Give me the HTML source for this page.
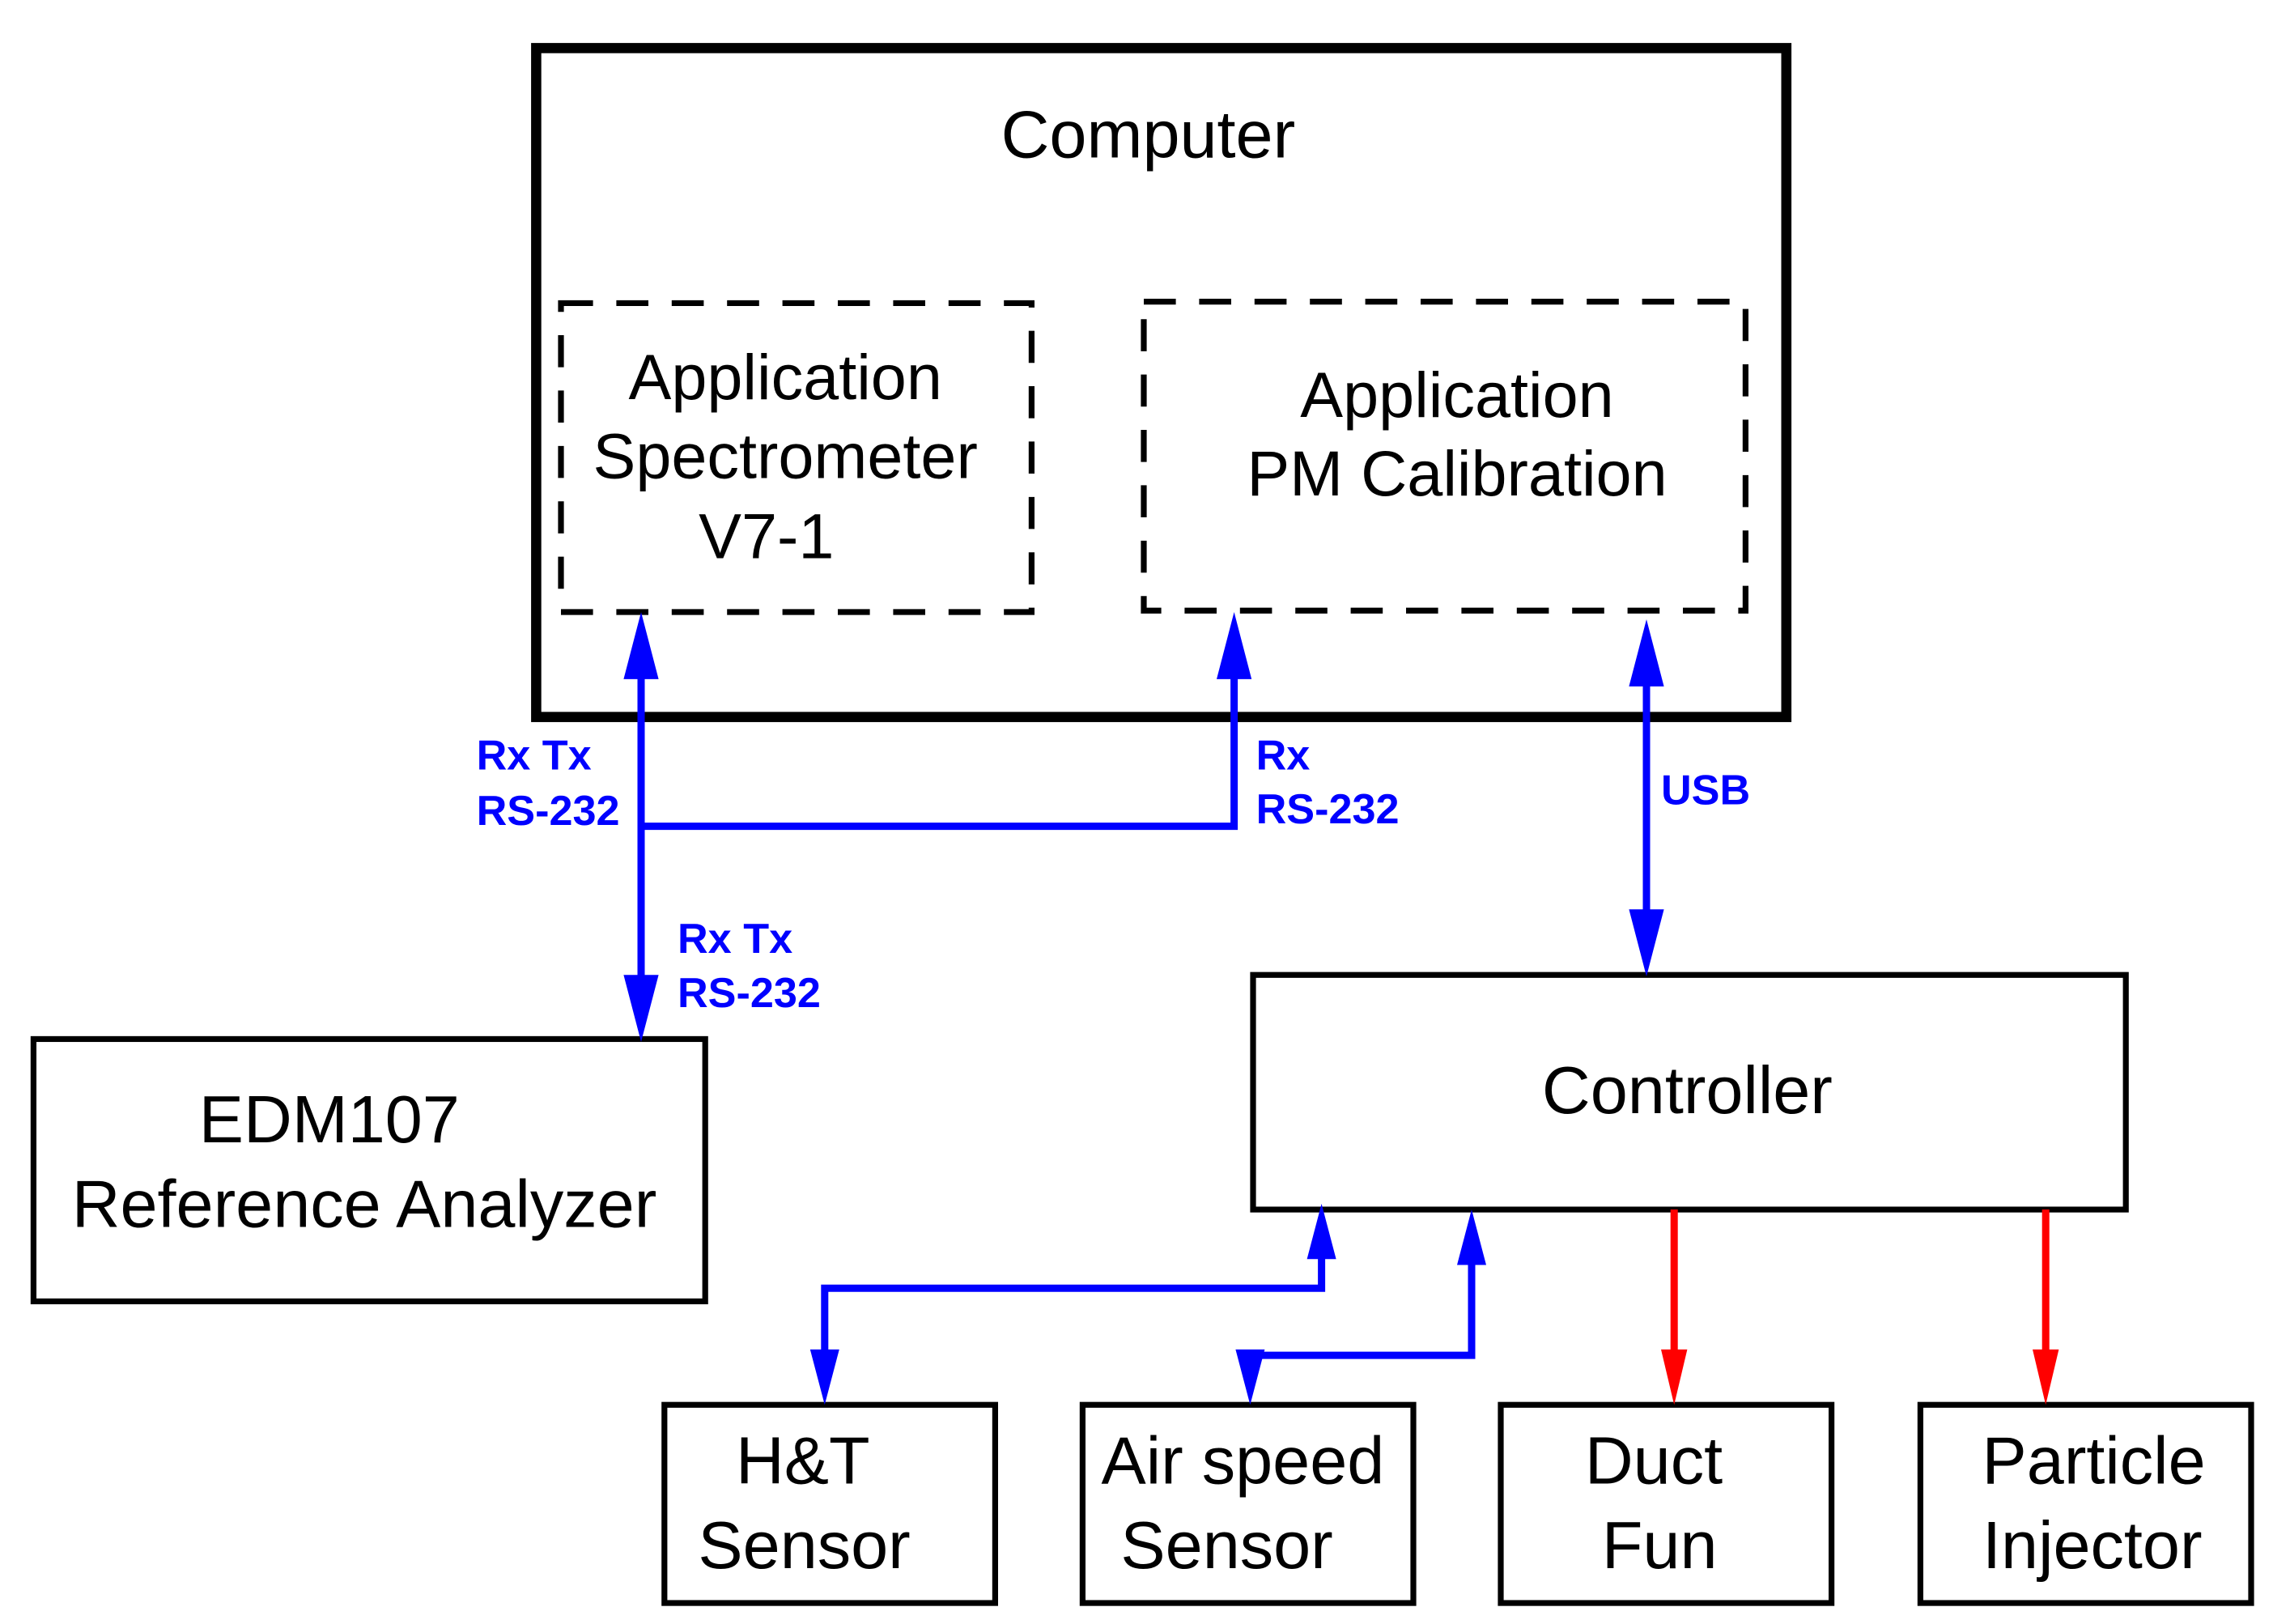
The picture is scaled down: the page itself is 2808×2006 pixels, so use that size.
<!DOCTYPE html>
<html><head><style>html,body{margin:0;padding:0;background:#fff}svg{display:block}</style></head><body>
<svg width="2808" height="2006" viewBox="0 0 1560 1114.4" preserveAspectRatio="none" xmlns="http://www.w3.org/2000/svg" font-family="Liberation Sans, Arial, sans-serif">
<rect x="368" y="33" width="858" height="459" fill="none" stroke="#000" stroke-width="7"/>
<rect x="385" y="208" width="323" height="212" fill="none" stroke="#000" stroke-width="4" stroke-dasharray="22,16"/>
<rect x="785" y="207" width="413" height="212" fill="none" stroke="#000" stroke-width="4" stroke-dasharray="22,16"/>
<g font-size="46" text-anchor="middle" fill="#000">
<text x="788" y="108">Computer</text>
<text x="539" y="274" font-size="44">Application</text>
<text x="539" y="328" font-size="44">Spectrometer</text>
<text x="526" y="383" font-size="44">V7-1</text>
<text x="1000" y="286" font-size="44">Application</text>
<text x="1000" y="340" font-size="44">PM Calibration</text>
<text x="226" y="784">EDM107</text>
<text x="250" y="842">Reference Analyzer</text>
<text x="1158" y="764">Controller</text>
<text x="551" y="1018">H&amp;T</text>
<text x="552" y="1076">Sensor</text>
<text x="853" y="1018">Air speed</text>
<text x="842" y="1076">Sensor</text>
<text x="1135" y="1018">Duct</text>
<text x="1139" y="1076">Fun</text>
<text x="1437" y="1018">Particle</text>
<text x="1436" y="1076">Injector</text>
</g>
<rect x="23" y="713" width="461" height="180" fill="none" stroke="#000" stroke-width="4"/>
<rect x="860" y="669" width="599" height="161" fill="none" stroke="#000" stroke-width="4"/>
<rect x="456" y="964" width="227" height="136" fill="none" stroke="#000" stroke-width="4"/>
<rect x="743" y="964" width="227" height="136" fill="none" stroke="#000" stroke-width="4"/>
<rect x="1030" y="964" width="227" height="136" fill="none" stroke="#000" stroke-width="4"/>
<rect x="1318" y="964" width="227" height="136" fill="none" stroke="#000" stroke-width="4"/>
<g stroke="#0000ff" stroke-width="5" fill="none">
<line x1="440" y1="450" x2="440" y2="690"/>
<polyline points="440,567 847,567 847,450"/>
<line x1="1130" y1="455" x2="1130" y2="640"/>
<polyline points="907,860 907,884 566,884 566,930"/>
<polyline points="1010,864 1010,930 858,930 858,935"/>
</g>
<g fill="#0000ff">
<polygon points="440,420 428,466 452,466"/>
<polygon points="440,715 428,669 452,669"/>
<polygon points="847,420 835,466 859,466"/>
<polygon points="1130,425 1118,471 1142,471"/>
<polygon points="1130,670 1118,624 1142,624"/>
<polygon points="907,826 897,864 917,864"/>
<polygon points="1010,830 1000,868 1020,868"/>
<polygon points="566,964 556,926 576,926"/>
<polygon points="858,964 848,926 868,926"/>
</g>
<g stroke="#ff0000" stroke-width="5">
<line x1="1149" y1="830" x2="1149" y2="935"/>
<line x1="1404" y1="830" x2="1404" y2="935"/>
</g>
<g fill="#ff0000">
<polygon points="1149,964 1140,926 1158,926"/>
<polygon points="1404,964 1395,926 1413,926"/>
</g>
<g fill="#0000ff" font-size="29" font-weight="bold">
<text x="327" y="528">Rx Tx</text>
<text x="327" y="566">RS-232</text>
<text x="862" y="528">Rx</text>
<text x="862" y="565">RS-232</text>
<text x="1140" y="552">USB</text>
<text x="465" y="654">Rx Tx</text>
<text x="465" y="691">RS-232</text>
</g>
</svg>
</body></html>
